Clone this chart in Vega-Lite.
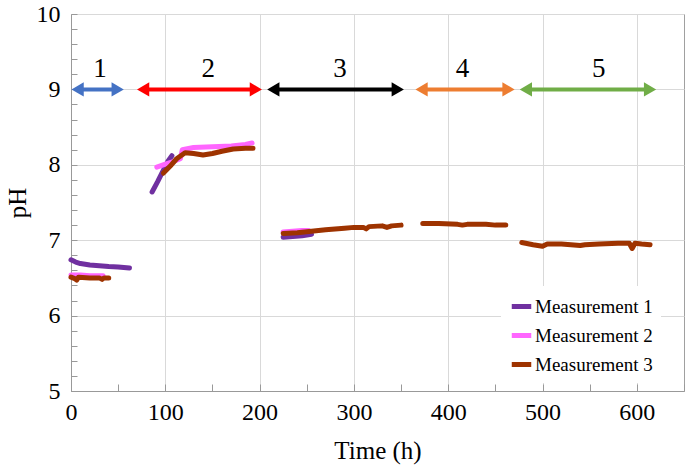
{
  "$schema": "https://vega.github.io/schema/vega-lite/v6.json",
  "autosize": "none",
  "padding": {"left": 71, "top": 14, "right": 1, "bottom": 78},
  "width": 613,
  "height": 377,
  "background": "white",
  "config": {
    "font": "Liberation Serif",
    "view": {"stroke": "#a0a0a0", "strokeWidth": 1},
    "axis": {
      "labelFont": "Liberation Serif",
      "titleFont": "Liberation Serif",
      "labelColor": "black",
      "titleColor": "black",
      "titleFontWeight": "normal",
      "domainColor": "#999999",
      "tickColor": "#999999",
      "gridColor": "#d9d9d9",
      "gridWidth": 1
    }
  },
  "datasets": {
    "lines": [
      {"m": "Measurement 1", "seg": "1a", "t": 0, "ph": 6.74},
      {"m": "Measurement 1", "seg": "1a", "t": 5, "ph": 6.71},
      {"m": "Measurement 1", "seg": "1a", "t": 10, "ph": 6.69},
      {"m": "Measurement 1", "seg": "1a", "t": 20, "ph": 6.67},
      {"m": "Measurement 1", "seg": "1a", "t": 30, "ph": 6.66},
      {"m": "Measurement 1", "seg": "1a", "t": 40, "ph": 6.65},
      {"m": "Measurement 1", "seg": "1a", "t": 50, "ph": 6.645},
      {"m": "Measurement 1", "seg": "1a", "t": 62, "ph": 6.63},
      {"m": "Measurement 1", "seg": "1b", "t": 86, "ph": 7.64},
      {"m": "Measurement 1", "seg": "1b", "t": 92, "ph": 7.78},
      {"m": "Measurement 1", "seg": "1b", "t": 98, "ph": 7.93},
      {"m": "Measurement 1", "seg": "1b", "t": 103, "ph": 8.05},
      {"m": "Measurement 1", "seg": "1b", "t": 107, "ph": 8.12},
      {"m": "Measurement 1", "seg": "1c", "t": 225, "ph": 7.04},
      {"m": "Measurement 1", "seg": "1c", "t": 235, "ph": 7.05},
      {"m": "Measurement 1", "seg": "1c", "t": 245, "ph": 7.06},
      {"m": "Measurement 1", "seg": "1c", "t": 255, "ph": 7.08},
      {"m": "Measurement 2", "seg": "2a", "t": 0, "ph": 6.54},
      {"m": "Measurement 2", "seg": "2a", "t": 10, "ph": 6.54},
      {"m": "Measurement 2", "seg": "2a", "t": 20, "ph": 6.53},
      {"m": "Measurement 2", "seg": "2a", "t": 34, "ph": 6.53},
      {"m": "Measurement 2", "seg": "2b", "t": 91, "ph": 7.97},
      {"m": "Measurement 2", "seg": "2b", "t": 100, "ph": 8.01},
      {"m": "Measurement 2", "seg": "2b", "t": 110, "ph": 8.05},
      {"m": "Measurement 2", "seg": "2b", "t": 116, "ph": 8.08},
      {"m": "Measurement 2", "seg": "2b", "t": 118, "ph": 8.2},
      {"m": "Measurement 2", "seg": "2b", "t": 130, "ph": 8.23},
      {"m": "Measurement 2", "seg": "2b", "t": 150, "ph": 8.24},
      {"m": "Measurement 2", "seg": "2b", "t": 170, "ph": 8.25},
      {"m": "Measurement 2", "seg": "2b", "t": 185, "ph": 8.27},
      {"m": "Measurement 2", "seg": "2b", "t": 192, "ph": 8.29},
      {"m": "Measurement 2", "seg": "2c", "t": 225, "ph": 7.11},
      {"m": "Measurement 2", "seg": "2c", "t": 235, "ph": 7.12},
      {"m": "Measurement 2", "seg": "2c", "t": 245, "ph": 7.13},
      {"m": "Measurement 2", "seg": "2c", "t": 252, "ph": 7.13},
      {"m": "Measurement 3", "seg": "3a", "t": 0, "ph": 6.51},
      {"m": "Measurement 3", "seg": "3a", "t": 4, "ph": 6.49},
      {"m": "Measurement 3", "seg": "3a", "t": 6, "ph": 6.47},
      {"m": "Measurement 3", "seg": "3a", "t": 8, "ph": 6.51},
      {"m": "Measurement 3", "seg": "3a", "t": 20, "ph": 6.5},
      {"m": "Measurement 3", "seg": "3a", "t": 30, "ph": 6.5},
      {"m": "Measurement 3", "seg": "3a", "t": 33, "ph": 6.48},
      {"m": "Measurement 3", "seg": "3a", "t": 35, "ph": 6.5},
      {"m": "Measurement 3", "seg": "3a", "t": 40, "ph": 6.5},
      {"m": "Measurement 3", "seg": "3b", "t": 98, "ph": 7.89},
      {"m": "Measurement 3", "seg": "3b", "t": 105, "ph": 7.98},
      {"m": "Measurement 3", "seg": "3b", "t": 112, "ph": 8.08},
      {"m": "Measurement 3", "seg": "3b", "t": 121, "ph": 8.16},
      {"m": "Measurement 3", "seg": "3b", "t": 130, "ph": 8.15},
      {"m": "Measurement 3", "seg": "3b", "t": 140, "ph": 8.13},
      {"m": "Measurement 3", "seg": "3b", "t": 150, "ph": 8.15},
      {"m": "Measurement 3", "seg": "3b", "t": 160, "ph": 8.18},
      {"m": "Measurement 3", "seg": "3b", "t": 172, "ph": 8.21},
      {"m": "Measurement 3", "seg": "3b", "t": 185, "ph": 8.22},
      {"m": "Measurement 3", "seg": "3b", "t": 193, "ph": 8.22},
      {"m": "Measurement 3", "seg": "3c", "t": 225, "ph": 7.09},
      {"m": "Measurement 3", "seg": "3c", "t": 240, "ph": 7.1},
      {"m": "Measurement 3", "seg": "3c", "t": 255, "ph": 7.12},
      {"m": "Measurement 3", "seg": "3c", "t": 270, "ph": 7.14},
      {"m": "Measurement 3", "seg": "3c", "t": 290, "ph": 7.16},
      {"m": "Measurement 3", "seg": "3c", "t": 300, "ph": 7.17},
      {"m": "Measurement 3", "seg": "3c", "t": 310, "ph": 7.17},
      {"m": "Measurement 3", "seg": "3c", "t": 313, "ph": 7.15},
      {"m": "Measurement 3", "seg": "3c", "t": 316, "ph": 7.18},
      {"m": "Measurement 3", "seg": "3c", "t": 330, "ph": 7.19},
      {"m": "Measurement 3", "seg": "3c", "t": 335, "ph": 7.17},
      {"m": "Measurement 3", "seg": "3c", "t": 340, "ph": 7.19},
      {"m": "Measurement 3", "seg": "3c", "t": 350, "ph": 7.2},
      {"m": "Measurement 3", "seg": "3d", "t": 373, "ph": 7.22},
      {"m": "Measurement 3", "seg": "3d", "t": 390, "ph": 7.22},
      {"m": "Measurement 3", "seg": "3d", "t": 410, "ph": 7.21},
      {"m": "Measurement 3", "seg": "3d", "t": 415, "ph": 7.2},
      {"m": "Measurement 3", "seg": "3d", "t": 420, "ph": 7.21},
      {"m": "Measurement 3", "seg": "3d", "t": 440, "ph": 7.21},
      {"m": "Measurement 3", "seg": "3d", "t": 450, "ph": 7.2},
      {"m": "Measurement 3", "seg": "3d", "t": 461, "ph": 7.2},
      {"m": "Measurement 3", "seg": "3e", "t": 478, "ph": 6.97},
      {"m": "Measurement 3", "seg": "3e", "t": 490, "ph": 6.94},
      {"m": "Measurement 3", "seg": "3e", "t": 500, "ph": 6.92},
      {"m": "Measurement 3", "seg": "3e", "t": 505, "ph": 6.95},
      {"m": "Measurement 3", "seg": "3e", "t": 520, "ph": 6.95},
      {"m": "Measurement 3", "seg": "3e", "t": 540, "ph": 6.93},
      {"m": "Measurement 3", "seg": "3e", "t": 545, "ph": 6.94},
      {"m": "Measurement 3", "seg": "3e", "t": 560, "ph": 6.95},
      {"m": "Measurement 3", "seg": "3e", "t": 580, "ph": 6.96},
      {"m": "Measurement 3", "seg": "3e", "t": 592, "ph": 6.96},
      {"m": "Measurement 3", "seg": "3e", "t": 595, "ph": 6.89},
      {"m": "Measurement 3", "seg": "3e", "t": 598, "ph": 6.96},
      {"m": "Measurement 3", "seg": "3e", "t": 605, "ph": 6.95},
      {"m": "Measurement 3", "seg": "3e", "t": 614, "ph": 6.94}
    ],
    "arrows": [
      {"seg": "1", "x1": 7, "x2": 49.5, "y": 9, "c": "#4472C4"},
      {"seg": "2", "x1": 76.5, "x2": 196, "y": 9, "c": "#FF0000"},
      {"seg": "3", "x1": 214.5, "x2": 346.5, "y": 9, "c": "#000000"},
      {"seg": "4", "x1": 371.7, "x2": 463.9, "y": 9, "c": "#ED7D31"},
      {"seg": "5", "x1": 482.3, "x2": 614, "y": 9, "c": "#70AD47"}
    ],
    "heads": [
      {"x": 7, "y": 9, "shape": "triangle-left", "c": "#4472C4"},
      {"x": 49.5, "y": 9, "shape": "triangle-right", "c": "#4472C4"},
      {"x": 76.5, "y": 9, "shape": "triangle-left", "c": "#FF0000"},
      {"x": 196, "y": 9, "shape": "triangle-right", "c": "#FF0000"},
      {"x": 214.5, "y": 9, "shape": "triangle-left", "c": "#000000"},
      {"x": 346.5, "y": 9, "shape": "triangle-right", "c": "#000000"},
      {"x": 371.7, "y": 9, "shape": "triangle-left", "c": "#ED7D31"},
      {"x": 463.9, "y": 9, "shape": "triangle-right", "c": "#ED7D31"},
      {"x": 482.3, "y": 9, "shape": "triangle-left", "c": "#70AD47"},
      {"x": 614, "y": 9, "shape": "triangle-right", "c": "#70AD47"}
    ],
    "labels": [
      {"lab": "1", "x": 30.8, "y": 9.16},
      {"lab": "2", "x": 145.6, "y": 9.16},
      {"lab": "3", "x": 285.3, "y": 9.16},
      {"lab": "4", "x": 415, "y": 9.16},
      {"lab": "5", "x": 559.7, "y": 9.16}
    ]
  },
  "layer": [
    {
      "data": {"name": "lines"},
      "mark": {"type": "line", "strokeWidth": 5, "strokeCap": "round", "strokeJoin": "round"},
      "encoding": {
        "x": {
          "field": "t", "type": "quantitative",
          "scale": {"domain": [0, 650], "nice": false, "zero": false},
          "axis": {
            "orient": "bottom",
            "values": [0, 100, 200, 300, 400, 500, 600],
            "grid": true, "ticks": false, "domain": true, "labelFlush": false,
            "labelFontSize": 24, "labelPadding": 9,
            "title": "Time (h)", "titleFontSize": 25, "titlePadding": 14
          }
        },
        "y": {
          "field": "ph", "type": "quantitative",
          "scale": {"domain": [5, 10], "nice": false, "zero": false},
          "axis": {
            "orient": "left",
            "values": [5, 6, 7, 8, 9, 10],
            "grid": true, "ticks": false, "domain": true, "labelFlush": false,
            "labelFontSize": 24, "labelPadding": 11,
            "title": "pH", "titleFontSize": 25, "titlePadding": 6
          }
        },
        "color": {
          "field": "m", "type": "nominal",
          "scale": {"domain": ["Measurement 1", "Measurement 2", "Measurement 3"], "range": ["#7030A0", "#FF66FF", "#9E3300"]},
          "legend": {
            "orient": "none", "legendX": 430, "legendY": 272,
            "title": null, "symbolType": "stroke", "symbolStrokeWidth": 5, "symbolSize": 380,
            "labelFont": "Liberation Serif", "labelFontSize": 19, "labelColor": "black",
            "fillColor": "white", "padding": 8, "rowPadding": 6, "labelOffset": 1
          }
        },
        "detail": {"field": "seg", "type": "nominal"},
        "order": {"field": "t", "type": "quantitative"}
      }
    },
    {
      "data": {"name": "arrows"},
      "mark": {"type": "rule", "strokeWidth": 4},
      "encoding": {
        "x": {
          "field": "x1", "type": "quantitative",
          "axis": {
            "orient": "bottom",
            "values": [0, 50, 100, 150, 200, 250, 300, 350, 400, 450, 500, 550, 600, 650],
            "grid": false, "labels": false, "domain": false, "ticks": true, "tickSize": -7, "title": null
          }
        },
        "x2": {"field": "x2"},
        "y": {
          "field": "y", "type": "quantitative",
          "axis": {
            "orient": "left",
            "values": [5, 5.2, 5.4, 5.6, 5.8, 6, 6.2, 6.4, 6.6, 6.8, 7, 7.2, 7.4, 7.6, 7.8, 8, 8.2, 8.4, 8.6, 8.8, 9, 9.2, 9.4, 9.6, 9.8, 10],
            "grid": false, "labels": false, "domain": false, "ticks": true, "tickSize": -6, "title": null
          }
        },
        "stroke": {"field": "c", "type": "nominal", "scale": null}
      }
    },
    {
      "data": {"name": "heads"},
      "mark": {"type": "point", "filled": true, "opacity": 1, "size": 200},
      "encoding": {
        "x": {"field": "x", "type": "quantitative", "axis": null},
        "y": {"field": "y", "type": "quantitative", "axis": null},
        "shape": {"field": "shape", "type": "nominal", "scale": null},
        "fill": {"field": "c", "type": "nominal", "scale": null}
      }
    },
    {
      "data": {"name": "labels"},
      "mark": {"type": "text", "font": "Liberation Serif", "fontSize": 27, "baseline": "alphabetic", "align": "center", "color": "black"},
      "encoding": {
        "x": {"field": "x", "type": "quantitative", "axis": null},
        "y": {"field": "y", "type": "quantitative", "axis": null},
        "text": {"field": "lab", "type": "nominal"}
      }
    }
  ],
  "resolve": {"axis": {"x": "independent", "y": "independent"}}
}
